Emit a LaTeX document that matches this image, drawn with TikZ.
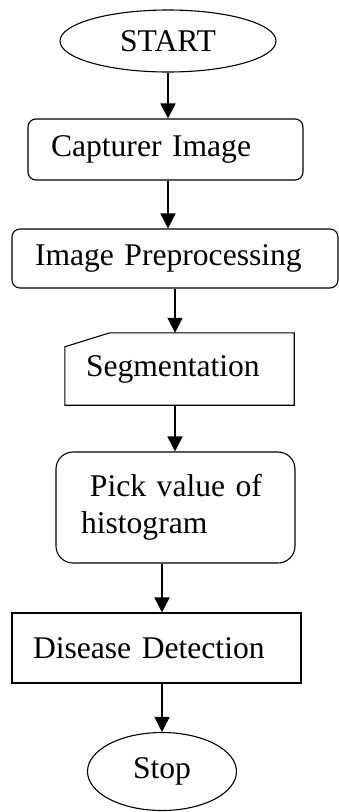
\documentclass[tikz,border=0pt]{standalone}
\usepackage{fontspec}
\setmainfont{Liberation Serif}
\usepackage{tikz}
\usetikzlibrary{shapes}
\usetikzlibrary{arrows.meta}
\usetikzlibrary{calc}

\tikzset{
  box/.style={draw, line width=1.1pt, align=left, inner ysep=0pt},
  arr/.style={line width=1.6pt, -{Triangle[length=15pt,width=15pt]}}
}

\begin{document}
\begin{tikzpicture}[x=1pt,y=-1pt,font=\fontsize{31.6}{37}\selectfont]
\useasboundingbox (0,0) rectangle (339,812);
\node[draw,line width=1.1pt] (start) at (168,41) [ellipse, minimum height=62pt,minimum width=216pt,inner sep=0pt] {START};
\node[box,rounded corners=8pt] (cap) at (165.5,149.5) [text width=229pt,inner xsep=23pt,minimum height=61pt] {Capturer Image};
\node[box,rounded corners=8pt] (pre) at (175,258.5) [text width=280pt,inner xsep=23pt,minimum height=59pt] {Image Preprocessing};
\node[align=left] (seg) at (179.5,369) [text width=187pt,inner xsep=21pt,inner ysep=0pt,minimum height=72pt] {Segmentation};
\draw[line width=1.1pt] ($(seg.north west)+(0,14)$) -- ($(seg.north west)+(45,0)$) -- (seg.north east)
  -- (seg.south east) -- (seg.south west) -- cycle;
\node[box,rounded corners=17pt] (pick) at (175.5,507.5) [text width=189pt,inner xsep=25pt,minimum height=111pt] {\hspace*{9pt}Pick value of\\histogram};
\node[box] (det) at (156.5,648) [text width=247pt,inner xsep=21pt,minimum height=70pt] {Disease Detection};
\node[draw,line width=1.1pt] (stop) at (162,771.5) [ellipse, minimum height=78pt,minimum width=149pt,inner sep=0pt] {Stop};
% connectors
\draw[arr] (start.south) -- (start.south |- cap.north);
\draw[arr] (start.south |- cap.south) -- (start.south |- pre.north);
\draw[arr] (pre.south) -- (pre.south |- seg.north);
\draw[arr] (pre.south |- seg.south) -- (pre.south |- pick.north);
\draw[arr] (stop.north |- pick.south) -- (stop.north |- det.north);
\draw[arr] (stop.north |- det.south) -- (stop);
\end{tikzpicture}
\end{document}
